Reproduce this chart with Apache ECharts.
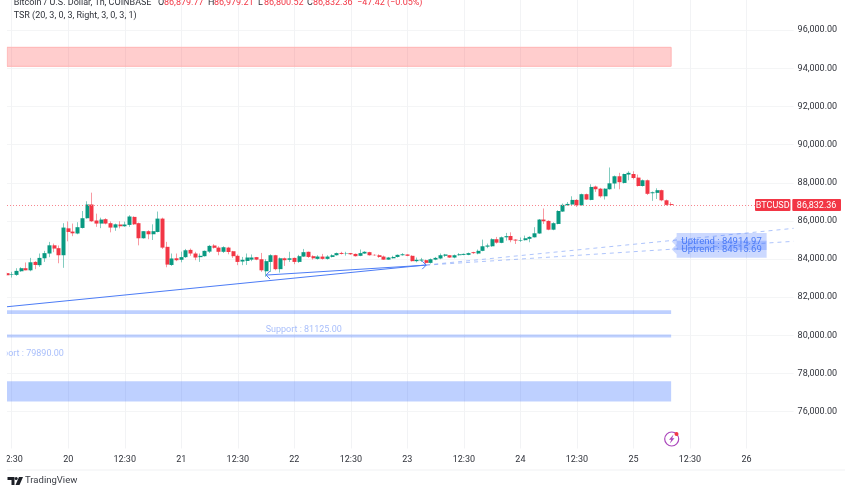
<!DOCTYPE html>
<html>
<head>
<meta charset="utf-8">
<style>html,body{margin:0;padding:0;background:#fff}#chart{width:852px;height:485px}</style>
<script src="https://cdn.jsdelivr.net/npm/echarts@6/dist/echarts.min.js"></script>
</head>
<body>
<div id="chart"></div>
<script>
// candles, one hour each
const opens = [
  83260,83170,83170,83360,83520,83410,83850,83680,84040,84290,84720,84570,
  84200,85610,85440,85340,85630,86140,86860,86020,85860,86090,85880,85650,
  85810,85720,85790,86210,85880,85090,85460,85300,85420,86120,84640,83690,
  84040,83960,84100,84480,84290,84100,84150,84390,84710,84600,84380,84600,
  84410,84170,83870,83900,83970,84100,83990,83360,83850,84200,83470,84040,
  83960,84060,83850,84130,84380,84150,84010,84130,84010,84110,84200,84320,
  84290,84310,84270,84170,84290,84360,84220,84200,84130,83970,84040,84110,
  84200,84240,84170,83890,83920,83940,83800,83970,84030,84170,84200,84080,
  84200,84220,84220,84360,84290,84430,84650,84670,85040,84850,85140,85210,
  85020,84970,84990,85060,85140,85340,86070,86000,85540,85840,86490,86820,
  86860,87100,86820,87400,87100,87800,87690,87290,87660,87960,88340,87990,
  88430,88460,88270,87830,88130,87450,87470,87610,87080,86879.77
];
const closes = [
  83150,83200,83380,83520,83410,83830,83690,84060,84310,84720,84550,84200,
  85650,85420,85350,85670,86140,86860,85980,85860,86070,85860,85650,85820,
  85720,85810,86230,85820,85090,85460,85300,85460,86120,84600,83710,84030,
  83940,84100,84460,84290,84080,84170,84430,84690,84590,84380,84620,84370,
  84150,83850,83960,84080,84080,83970,83410,83890,84200,83470,84040,83940,
  84040,83850,84150,84360,84110,84040,84130,84010,84130,84200,84310,84270,
  84310,84250,84150,84310,84380,84200,84200,84110,83970,84080,84110,84220,
  84250,84170,83890,83960,83970,83800,83990,84060,84200,84240,84080,84200,
  84250,84270,84310,84310,84430,84670,84710,85040,84860,85140,85200,84990,
  84970,85000,85090,85160,85350,86070,85980,85540,85880,86520,86840,86890,
  87100,86820,87400,87120,87780,87660,87290,87690,87970,88340,88030,88460,
  88520,88250,87830,88130,87420,87500,87610,87080,86840,86832.36
];
const lows = [
  83120,83030,83120,83330,83410,83360,83470,83590,83850,84100,84360,83780,
  83540,84930,85200,85300,85600,86120,85950,85690,85620,85820,85400,85480,
  85610,85690,85690,85790,84720,85070,85040,85000,85400,84530,83570,83640,
  83890,83830,84060,84170,83940,83850,84130,84320,84550,84200,84320,84250,
  84060,83680,83680,83690,83890,83940,83330,83070,83330,83410,83290,83640,
  83850,83730,83800,84110,84060,83970,83970,83970,83970,84080,84180,84240,
  84180,84220,84130,84150,84270,84180,84170,84060,83960,83960,84030,84080,
  84180,84150,83870,83830,83850,83730,83760,83940,83990,84110,84060,84040,
  84180,84200,84200,84270,84250,84410,84570,84640,84810,84830,84970,84880,
  84790,84900,84970,84880,85130,85320,85840,85510,85510,85820,86470,86800,
  86840,86730,86800,87100,87080,87520,87220,87120,87640,87690,87660,87960,
  88130,88180,87800,87800,87360,87050,87150,87030,86800,86800.52
];
const highs = [
  83310,83330,83520,83570,83820,84060,83890,84290,84430,84900,84810,84710,
  85880,85970,85860,85930,86520,87030,87480,86380,86170,86140,85970,85860,
  85980,85960,86300,86240,85910,85460,85510,85820,86490,86170,84900,84290,
  84290,84390,84530,84550,84380,84290,84450,84740,84780,84670,84670,84640,
  84430,84240,84110,84290,84240,84110,84320,83990,84250,84220,84080,84080,
  84380,84080,84220,84530,84390,84200,84200,84270,84200,84250,84340,84380,
  84380,84320,84290,84500,84410,84380,84250,84250,84180,84110,84170,84240,
  84310,84250,84200,84080,84060,83970,84030,84110,84290,84270,84200,84240,
  84310,84290,84340,84380,84500,85020,84810,85090,85160,85180,85370,85400,
  85040,85130,85230,85200,85670,86100,86650,86030,85930,86560,86910,86990,
  87290,87140,87430,87430,87920,87850,87730,87710,88800,88380,88520,88480,
  88600,88600,88430,88170,88170,87540,87710,87640,87120,86979.21
];

// x axis: a label every 12 bars, starting at bar 1, room for future bars on the right
const tickLabels = ['12:30','20','12:30','21','12:30','22','12:30','23','12:30','24','12:30','25','12:30','26'];
const barCount = 168;
const categories = [];
for (let i = 0; i < barCount; i++) {
  categories.push((i - 1) % 12 === 0 ? tickLabels[(i - 1) / 12] : '');
}
const isTick = index => (index - 1) % 12 === 0;

// zones: [low, high]
const redZones = [[94105, 95100]];
const blueZones = [[81125, 81320], [79890, 80040], [76530, 77600]];
const zoneEnd = 141;

// trend lines: [bar, price] to [bar, price]
const solidTrends = [
  [[0, 81500], [89, 83690]],
  [[55, 83160], [89, 83680]]
];
const dashedTrends = [
  [[89, 83690], [167, 85610]],
  [[89, 83680], [167, 84930]]
];
const arrowEnds = [[55, 83160], [89, 83680]];

// labels
const supportLabels = [[63, 81125, 'Support : 81125.00'], [4, 79890, 'Support : 79890.00']];
const uptrendTags = [[141, 84914.97, 'Uptrend : 84914.97'], [141, 84515.69, 'Uptrend : 84515.69']];
const lastPrice = 86832.36;
const legendItems = [['O', '86,879.77', 158], ['H', '86,979.21', 208], ['L', '86,800.52', 258], ['C', '86,832.36', 307]];

const FONT = 'Roboto, sans-serif';
const GREEN = '#089981';
const RED = '#F23645';
const BLUE = '#4C7CF6';
const TEXT = '#2f323a';

var myChart = echarts.init(document.getElementById('chart'));

function renderSupportLabel(params, api) {
  const p = api.coord([api.value(0), api.value(1)]);
  return {
    type: 'text',
    style: {
      x: p[0], y: p[1] + 16, text: supportLabels[params.dataIndex][2],
      fill: '#A9BFFB', font: '9px ' + FONT, align: 'center', verticalAlign: 'middle'
    }
  };
}

function renderUptrendTag(params, api) {
  const p = api.coord([api.value(0), api.value(1)]);
  const x = p[0] + 0.5, y = p[1];
  return {
    type: 'group',
    children: [{
      type: 'polygon',
      shape: { points: [[x, y], [x + 5, y - 5], [x + 5, y - 8.5], [x + 95, y - 8.5], [x + 95, y + 8.5], [x + 5, y + 8.5], [x + 5, y + 5]] },
      style: { fill: 'rgba(41,98,255,0.24)' }
    }, {
      type: 'text',
      style: {
        x: x + 50, y: y + 0.5, text: uptrendTags[params.dataIndex][2],
        fill: BLUE, font: '9.5px ' + FONT, align: 'center', verticalAlign: 'middle'
      }
    }]
  };
}

function renderArrowEnd(params, api) {
  const p = api.coord([api.value(0), api.value(1)]);
  const dir = params.dataIndex === 0 ? 1 : -1;
  return {
    type: 'polyline',
    shape: { points: [[p[0] + dir * 4, p[1] - 4], [p[0], p[1]], [p[0] + dir * 4, p[1] + 4]] },
    style: { stroke: BLUE, fill: null, lineWidth: 1 }
  };
}

function renderPriceTag(params, api) {
  const y = api.coord([0, api.value(0)])[1];
  return {
    type: 'group',
    children: [
      { type: 'rect', shape: { x: 755, y: y - 6, width: 35.5, height: 12, r: 1 }, style: { fill: RED } },
      { type: 'text', style: { x: 772.7, y: y + 0.5, text: 'BTCUSD', fill: '#fff', font: '9px ' + FONT, align: 'center', verticalAlign: 'middle' } },
      { type: 'rect', shape: { x: 792.3, y: y - 6, width: 48.7, height: 12, r: 1 }, style: { fill: RED } },
      { type: 'text', style: { x: 816.6, y: y + 0.5, text: '86,832.36', fill: '#fff', font: '9px ' + FONT, align: 'center', verticalAlign: 'middle' } }
    ]
  };
}

function headerText(x, y, text, fill) {
  return { type: 'text', z: 110, style: { x: x, y: y, text: text, fill: fill, font: '9px ' + FONT, verticalAlign: 'middle' } };
}

const headerItems = [
  headerText(13.7, 3, 'Bitcoin / U.S. Dollar, 1h, COINBASE', TEXT),
  headerText(13.7, 16, 'TSR (20, 3, 0, 3, Right, 3, 0, 3, 1)', TEXT),
  headerText(357, 3, '\u221247.42 (\u22120.05%)', RED)
];
legendItems.forEach(item => {
  headerItems.push(headerText(item[2], 3, item[0], TEXT));
  headerItems.push(headerText(item[2] + 6, 3, item[1], RED));
});

const option = {
  animation: false,
  backgroundColor: '#fff',
  textStyle: { fontFamily: FONT },
  grid: { left: 7, top: -8, width: 786.6, height: 457.8, outerBoundsMode: 'none' },
  xAxis: {
    type: 'category',
    data: categories,
    boundaryGap: false,
    axisLine: { show: false },
    axisTick: { show: false },
    axisLabel: { interval: isTick, color: TEXT, fontSize: 9, margin: 5, hideOverlap: false },
    splitLine: { show: true, interval: isTick, lineStyle: { color: '#F2F3F5', width: 1 } }
  },
  yAxis: {
    type: 'value',
    position: 'right',
    min: 74000,
    max: 98000,
    interval: 2000,
    axisLine: { show: false },
    axisTick: { show: false },
    axisLabel: {
      color: TEXT, fontSize: 9, margin: 4, padding: [2, 0, 0, 0],
      formatter: v => (v === 74000 || v === 98000) ? '' : v.toLocaleString('en-US', { minimumFractionDigits: 2 })
    },
    splitLine: { lineStyle: { color: '#F4F5F6', width: 1 } }
  },
  series: [{
    // wicks, lighter than the bodies
    type: 'candlestick',
    name: 'wicks',
    barWidth: 1,
    silent: true,
    z: 3,
    data: opens.map((o, i) => [o, closes[i], lows[i], highs[i]]),
    itemStyle: {
      color: 'transparent', color0: 'transparent',
      borderColor: 'rgba(8,153,129,0.5)', borderColor0: 'rgba(242,54,69,0.5)', borderWidth: 1
    },
    markArea: {
      silent: true,
      data: redZones.map(z => [{ coord: [0, z[1]], itemStyle: { color: 'rgba(255,90,90,0.3)', borderColor: '#FFB3B3', borderWidth: 1 } }, { coord: [zoneEnd, z[0]] }])
        .concat(blueZones.map(z => [{ coord: [0, z[1]], itemStyle: { color: 'rgba(41,98,255,0.3)' } }, { coord: [zoneEnd, z[0]] }]))
    },
    markLine: {
      silent: true,
      symbol: 'none',
      label: { show: false },
      animation: false,
      data: solidTrends.map(t => [{ coord: t[0], lineStyle: { color: BLUE, width: 1, type: 'solid' } }, { coord: t[1] }])
        .concat(dashedTrends.map(t => [{ coord: t[0], lineStyle: { color: 'rgba(76,124,246,0.45)', width: 1, type: [4, 4] } }, { coord: t[1] }]))
        .concat([[{ coord: [0, lastPrice], lineStyle: { color: '#F7868E', width: 1, type: [1, 2] } }, { coord: [159, lastPrice] }]])
    }
  }, {
    // bodies: same open and close, no wick
    type: 'candlestick',
    name: 'bodies',
    barWidth: 4.5,
    silent: true,
    z: 4,
    data: opens.map((o, i) => [o, closes[i], Math.min(o, closes[i]), Math.max(o, closes[i])]),
    itemStyle: { color: GREEN, color0: RED, borderWidth: 0 }
  }, {
    type: 'custom',
    z: 5,
    silent: true,
    renderItem: renderSupportLabel,
    data: supportLabels.map(l => [l[0], l[1]])
  }, {
    type: 'custom',
    z: 6,
    silent: true,
    renderItem: renderUptrendTag,
    data: uptrendTags.map(l => [l[0], l[1]])
  }, {
    type: 'custom',
    z: 6,
    silent: true,
    renderItem: renderArrowEnd,
    data: arrowEnds
  }, {
    type: 'custom',
    z: 7,
    silent: true,
    clip: false,
    renderItem: renderPriceTag,
    data: [[lastPrice]],
    encode: { y: 0 }
  }],
  graphic: {
    elements: [
      // the pane starts at x=7, anything left of that is cut
      { type: 'rect', z: 100, shape: { x: 0, y: 20, width: 6.8, height: 450 }, style: { fill: '#fff' } },
      { type: 'rect', z: 100, shape: { x: 0, y: 448.5, width: 852, height: 3 }, style: { fill: '#fff' } },
      { type: 'line', z: 101, shape: { x1: 7, y1: 470, x2: 845, y2: 470 }, style: { stroke: '#F0F1F3', lineWidth: 1 } },
      // TradingView mark
      { type: 'polygon', z: 101, shape: { points: [[7.5, 477], [14.5, 477], [14.5, 485], [11.5, 485], [11.5, 480], [7.5, 480]] }, style: { fill: '#1c1f26' } },
      { type: 'circle', z: 101, shape: { cx: 16.2, cy: 478.5, r: 1.5 }, style: { fill: '#1c1f26' } },
      { type: 'polygon', z: 101, shape: { points: [[19, 477], [23, 477], [19.5, 485], [15.5, 485]] }, style: { fill: '#1c1f26' } },
      { type: 'text', z: 101, style: { x: 25, y: 481, text: 'TradingView', fill: '#3a3d45', font: '9.5px ' + FONT, verticalAlign: 'middle' } },
      // news icon
      { type: 'circle', z: 101, shape: { cx: 671.7, cy: 439, r: 7 }, style: { fill: '#fff', stroke: '#AB47BC', lineWidth: 1.2 } },
      { type: 'polygon', z: 102, shape: { points: [[673.5, 434.5], [669, 439.8], [671.3, 439.8], [669.8, 443.5], [674.5, 438.2], [672.2, 438.2]] }, style: { fill: '#AB47BC' } },
      { type: 'circle', z: 103, shape: { cx: 676.5, cy: 434, r: 2 }, style: { fill: RED } }
    ].concat(headerItems)
  }
};
myChart.setOption(option);

window.addEventListener('resize', function() {
  myChart.resize();
});
</script>
</body>
</html>
